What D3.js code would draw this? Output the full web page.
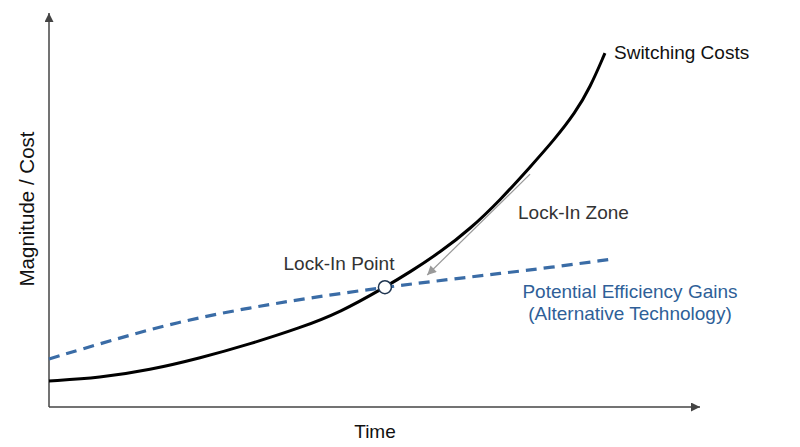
<!DOCTYPE html>
<html>
<head>
<meta charset="utf-8">
<script src="https://cdn.jsdelivr.net/npm/d3@7"></script>
<style>
  body { margin: 0; background: #fff; }
  text { font-family: "Liberation Sans", Arial, sans-serif; }
</style>
</head>
<body>
<div class="canvas"></div>
<script>
// Switching costs curve (time, cost)
const switchTime = [0, 7.8, 15.5, 23.2, 30.9, 38.6, 44.7, 51.6, 55.5, 60.1, 64.7, 69.3, 73.9, 77.7, 80.8, 83.1, 85.4]
const switchCost = [6.6, 7.4, 9.4, 12.4, 16.0, 20.1, 24.0, 30.4, 34.3, 39.3, 45.2, 52.5, 60.9, 68.0, 74.6, 81.0, 89.8]

// Potential efficiency gains curve (time, value)
const gainTime = [0, 9.7, 19.8, 30.1, 40.4, 51.6, 61.6, 69.3, 77.0, 85.9]
const gainValue = [12.2, 17.0, 21.6, 25.0, 27.8, 30.4, 32.4, 33.9, 35.4, 37.4]

// Lock-in point and lock-in zone arrow
const lockPoint = [51.6, 30.4]
const zoneArrow = [[73.9, 59.1], [58.1, 33.5]]

const width = 800
const height = 447

const svg = d3.select('.canvas')
  .append('svg')
    .attr('width', width)
    .attr('height', height)

const x = d3.scaleLinear()
  .domain([0, 100])
  .range([49, 700])

const y = d3.scaleLinear()
  .domain([0, 100])
  .range([407, 13])

// arrow markers
const defs = svg.append('defs')
defs.append('marker')
    .attr('id', 'axisArrow')
    .attr('viewBox', '0 0 10 10')
    .attr('refX', 10)
    .attr('refY', 5)
    .attr('markerWidth', 9)
    .attr('markerHeight', 9)
    .attr('markerUnits', 'userSpaceOnUse')
    .attr('orient', 'auto')
  .append('path')
    .attr('d', 'M0,0 L10,5 L0,10 Z')
    .attr('fill', '#444')

defs.append('marker')
    .attr('id', 'zoneArrow')
    .attr('viewBox', '0 0 10 10')
    .attr('refX', 10)
    .attr('refY', 5)
    .attr('markerWidth', 10)
    .attr('markerHeight', 9)
    .attr('markerUnits', 'userSpaceOnUse')
    .attr('orient', 'auto')
  .append('path')
    .attr('d', 'M0,0 L10,5 L0,10 Z')
    .attr('fill', '#999')

// axes
svg.append('line')
  .attr('x1', x(0)).attr('y1', y(0))
  .attr('x2', x(100)).attr('y2', y(0))
  .attr('stroke', '#444')
  .attr('stroke-width', 1.5)
  .attr('marker-end', 'url(#axisArrow)')

svg.append('line')
  .attr('x1', x(0)).attr('y1', y(0))
  .attr('x2', x(0)).attr('y2', y(100))
  .attr('stroke', '#444')
  .attr('stroke-width', 1.5)
  .attr('marker-end', 'url(#axisArrow)')

svg.append('text')
  .attr('x', 375)
  .attr('y', 438)
  .attr('text-anchor', 'middle')
  .attr('font-size', 19)
  .attr('fill', '#111')
  .text('Time')

svg.append('text')
  .attr('transform', 'translate(34,209) rotate(-90)')
  .attr('text-anchor', 'middle')
  .attr('font-size', 20.5)
  .attr('fill', '#111')
  .text('Magnitude / Cost')

const line = d3.line()
  .x((d) => x(d[0]))
  .y((d) => y(d[1]))
  .curve(d3.curveBasis)

// efficiency gains (dashed)
svg.append('path')
  .datum(d3.zip(gainTime, gainValue))
  .attr('d', line)
  .attr('fill', 'none')
  .attr('stroke', '#3a6ca6')
  .attr('stroke-width', 3.2)
  .attr('stroke-dasharray', '11,7')

// switching costs
svg.append('path')
  .datum(d3.zip(switchTime, switchCost))
  .attr('d', line)
  .attr('fill', 'none')
  .attr('stroke', '#000')
  .attr('stroke-width', 3)

// lock-in zone arrow
svg.append('line')
  .attr('x1', x(zoneArrow[0][0])).attr('y1', y(zoneArrow[0][1]))
  .attr('x2', x(zoneArrow[1][0])).attr('y2', y(zoneArrow[1][1]))
  .attr('stroke', '#999')
  .attr('stroke-width', 1.2)
  .attr('marker-end', 'url(#zoneArrow)')

// lock-in point
svg.append('circle')
  .attr('cx', x(lockPoint[0]))
  .attr('cy', y(lockPoint[1]))
  .attr('r', 6.5)
  .attr('fill', '#fff')
  .attr('stroke', '#1f3550')
  .attr('stroke-width', 1.5)

// labels
svg.append('text')
  .attr('x', 614)
  .attr('y', 59)
  .attr('font-size', 19)
  .attr('fill', '#111')
  .text('Switching Costs')

svg.append('text')
  .attr('x', 518)
  .attr('y', 219)
  .attr('font-size', 19)
  .attr('fill', '#333')
  .text('Lock-In Zone')

svg.append('text')
  .attr('x', 339)
  .attr('y', 270)
  .attr('text-anchor', 'middle')
  .attr('font-size', 19)
  .attr('fill', '#333')
  .text('Lock-In Point')

svg.append('text')
  .attr('x', 630)
  .attr('y', 298)
  .attr('text-anchor', 'middle')
  .attr('font-size', 19)
  .attr('fill', '#2f5f98')
  .text('Potential Efficiency Gains')

svg.append('text')
  .attr('x', 630)
  .attr('y', 320)
  .attr('text-anchor', 'middle')
  .attr('font-size', 19)
  .attr('fill', '#2f5f98')
  .text('(Alternative Technology)')
</script>
</body>
</html>
